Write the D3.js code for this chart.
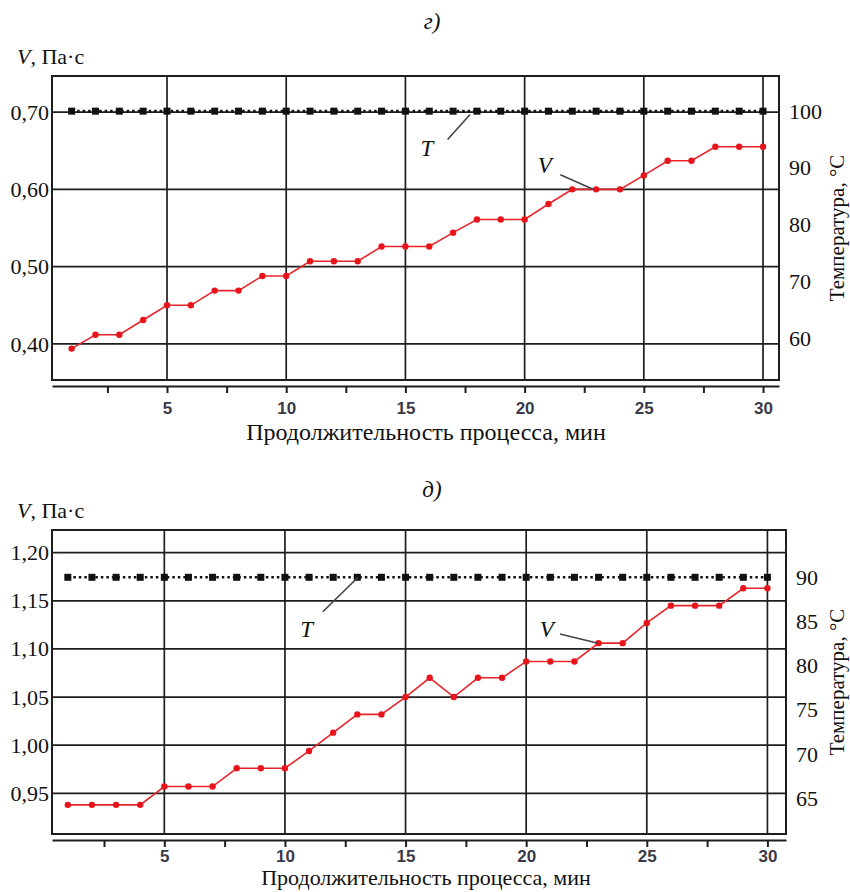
<!DOCTYPE html>
<html>
<head>
<meta charset="utf-8">
<script src="https://cdn.jsdelivr.net/npm/d3@7"></script>
<style>
  body { margin: 0; background: #fff; }
  svg { display: block; }
  .serif { font-family: "Liberation Serif", "DejaVu Serif", serif; fill: #111; }
</style>
</head>
<body>
<svg id="chart" width="850" height="892"></svg>
<script>
// minutes of the process (x axis categories)
const minutes = [1, 2, 3, 4, 5, 6, 7, 8, 9, 10, 11, 12, 13, 14, 15,
                 16, 17, 18, 19, 20, 21, 22, 23, 24, 25, 26, 27, 28, 29, 30];

// panel "г)"
const viscosityG = [0.394, 0.412, 0.412, 0.431, 0.450, 0.450, 0.469, 0.469, 0.488, 0.488,
                    0.507, 0.507, 0.507, 0.526, 0.526, 0.526, 0.544, 0.561, 0.561, 0.561,
                    0.581, 0.600, 0.600, 0.600, 0.618, 0.637, 0.637, 0.655, 0.655, 0.655];
const temperatureG = [100, 100, 100, 100, 100, 100, 100, 100, 100, 100,
                      100, 100, 100, 100, 100, 100, 100, 100, 100, 100,
                      100, 100, 100, 100, 100, 100, 100, 100, 100, 100];

// panel "д)"
const viscosityD = [0.938, 0.938, 0.938, 0.938, 0.957, 0.957, 0.957, 0.976, 0.976, 0.976,
                    0.994, 1.013, 1.032, 1.032, 1.050, 1.070, 1.050, 1.070, 1.070, 1.087,
                    1.087, 1.087, 1.106, 1.106, 1.127, 1.145, 1.145, 1.145, 1.163, 1.163];
const temperatureD = [90, 90, 90, 90, 90, 90, 90, 90, 90, 90,
                      90, 90, 90, 90, 90, 90, 90, 90, 90, 90,
                      90, 90, 90, 90, 90, 90, 90, 90, 90, 90];

// tick labels
const xTicksMajor = [5, 10, 15, 20, 25, 30];
const xTicksAll = [2.5, 5, 7.5, 10, 12.5, 15, 17.5, 20, 22.5, 25, 27.5, 30];
const vTicksG = [0.40, 0.50, 0.60, 0.70];
const tTicksG = [60, 70, 80, 90, 100];
const vTicksD = [0.95, 1.00, 1.05, 1.10, 1.15, 1.20];
const tTicksD = [65, 70, 75, 80, 85, 90];

const svg = d3.select("#chart");
svg.append("rect").attr("width", 850).attr("height", 892).attr("fill", "#fff");

const panels = [
  {
    title: "г)", titleY: 29, xTitleY: 440, xPad: 9, xTitleSize: 24,
    left: 52, right: 779, top: 76, bottom: 380,
    xDomain: [0.176, 30.67], vDomain: [0.3534, 0.7466], tDomain: [52.6, 106.2],
    v: viscosityG, t: temperatureG, vTicks: vTicksG, tTicks: tTicksG,
    // annotation anchors in data units: [x, value]
    tLabel: { text: [15.9, 93.6], from: [16.77, 95.0], to: [17.71, 99.4] },
    vLabel: { text: [20.85, 0.632], from: [21.5, 0.619], to: [22.87, 0.600] }
  },
  {
    title: "д)", titleY: 497, xTitleY: 885, xPad: 3, xTitleSize: 22,
    left: 52, right: 786, top: 530, bottom: 834,
    xDomain: [0.344, 30.77], vDomain: [0.9077, 1.2236], tDomain: [60.96, 95.35],
    v: viscosityD, t: temperatureD, vTicks: vTicksD, tTicks: tTicksD,
    tLabel: { text: [10.9, 84.2], from: [11.57, 86.1], to: [13.03, 90.0] },
    vLabel: { text: [20.85, 1.121], from: [21.4, 1.1155], to: [22.98, 1.106] }
  }
];

const commaFormat = d => d3.format(".2f")(d).replace(".", ",");

panels.forEach(p => {
  const g = svg.append("g");
  const x = d3.scaleLinear().domain(p.xDomain).range([p.left, p.right]);
  const yV = d3.scaleLinear().domain(p.vDomain).range([p.bottom, p.top]);
  const yT = d3.scaleLinear().domain(p.tDomain).range([p.bottom, p.top]);

  // title
  g.append("text")
    .attr("class", "serif")
    .attr("x", 432).attr("y", p.titleY)
    .attr("text-anchor", "middle")
    .style("font-size", "23px")
    .style("font-style", "italic")
    .text(p.title);

  // left axis title
  const vt = g.append("text")
    .attr("class", "serif")
    .attr("x", 17).attr("y", p.top - 12)
    .style("font-size", "22px");
  vt.append("tspan").style("font-style", "italic").text("V");
  vt.append("tspan").text(", Па·с");

  // grid
  g.selectAll(".vgrid")
    .data(xTicksMajor)
    .enter().append("line")
    .attr("x1", d => x(d)).attr("x2", d => x(d))
    .attr("y1", p.top).attr("y2", p.bottom)
    .attr("stroke", "#1e1e1e").attr("stroke-width", 1.7);

  g.selectAll(".hgrid")
    .data(p.vTicks)
    .enter().append("line")
    .attr("x1", p.left).attr("x2", p.right)
    .attr("y1", d => yV(d)).attr("y2", d => yV(d))
    .attr("stroke", "#1e1e1e").attr("stroke-width", 1.7);

  // frame
  g.append("rect")
    .attr("x", p.left).attr("y", p.top)
    .attr("width", p.right - p.left).attr("height", p.bottom - p.top)
    .attr("fill", "none")
    .attr("stroke", "#1e1e1e").attr("stroke-width", 2);

  // bottom axis
  const xAxis = d3.axisBottom(x)
    .tickValues(xTicksAll)
    .tickSize(7)
    .tickSizeOuter(0)
    .tickPadding(p.xPad)
    .tickFormat(d => xTicksMajor.includes(d) ? d : "");
  const xg = g.append("g")
    .attr("transform", `translate(0,${p.bottom + 6})`)
    .call(xAxis);
  xg.select(".domain").attr("stroke", "#1e1e1e").attr("stroke-width", 2);
  xg.selectAll(".tick line").attr("stroke", "#1e1e1e").attr("stroke-width", 2);
  xg.selectAll(".tick text")
    .style("font-family", "'Liberation Sans', Arial, sans-serif")
    .style("font-size", "17px")
    .style("font-weight", "bold")
    .attr("fill", "#3a3a48");

  g.append("text")
    .attr("class", "serif")
    .attr("x", 426).attr("y", p.xTitleY)
    .attr("text-anchor", "middle")
    .style("font-size", p.xTitleSize + "px")
    .text("Продолжительность процесса, мин");

  // left axis
  const yg = g.append("g")
    .attr("transform", `translate(${p.left},0)`)
    .call(d3.axisLeft(yV).tickValues(p.vTicks).tickSize(0).tickPadding(3).tickFormat(commaFormat));
  yg.select(".domain").remove();
  yg.selectAll(".tick text")
    .style("font-family", "'Liberation Serif', serif")
    .style("font-size", "22px")
    .attr("fill", "#111");

  // right axis
  const tg = g.append("g")
    .attr("transform", `translate(${p.right},0)`)
    .call(d3.axisRight(yT).tickValues(p.tTicks).tickSize(0).tickPadding(10));
  tg.select(".domain").remove();
  tg.selectAll(".tick text")
    .style("font-family", "'Liberation Serif', serif")
    .style("font-size", "22px")
    .attr("fill", "#111");

  g.append("text")
    .attr("class", "serif")
    .attr("transform", `translate(844,${(p.top + p.bottom) / 2}) rotate(-90)`)
    .attr("text-anchor", "middle")
    .style("font-size", "21px")
    .text("Температура, °С");

  // temperature series
  const tLine = d3.line().x((d, i) => x(minutes[i])).y(d => yT(d));
  g.append("path")
    .datum(p.t)
    .attr("fill", "none")
    .attr("stroke", "#111")
    .attr("stroke-width", 2.6)
    .attr("stroke-dasharray", "2.5,3")
    .attr("d", tLine);
  g.selectAll(".tmark")
    .data(p.t)
    .enter().append("rect")
    .attr("x", (d, i) => x(minutes[i]) - 3.5)
    .attr("y", d => yT(d) - 3.5)
    .attr("width", 7).attr("height", 7)
    .attr("fill", "#111");

  // viscosity series
  const vLine = d3.line().x((d, i) => x(minutes[i])).y(d => yV(d));
  g.append("path")
    .datum(p.v)
    .attr("fill", "none")
    .attr("stroke", "#e8242a")
    .attr("stroke-width", 1.6)
    .attr("d", vLine);
  g.selectAll(".vmark")
    .data(p.v)
    .enter().append("circle")
    .attr("cx", (d, i) => x(minutes[i]))
    .attr("cy", d => yV(d))
    .attr("r", 3.2)
    .attr("fill", "#e8141c");

  // annotations
  const leader = (a, y) => {
    g.append("line")
      .attr("x1", x(a.from[0])).attr("y1", y(a.from[1]))
      .attr("x2", x(a.to[0])).attr("y2", y(a.to[1]))
      .attr("stroke", "#444").attr("stroke-width", 1.6);
  };
  leader(p.tLabel, yT);
  leader(p.vLabel, yV);

  g.append("text")
    .attr("class", "serif")
    .attr("x", x(p.tLabel.text[0])).attr("y", yT(p.tLabel.text[1]))
    .attr("text-anchor", "middle").attr("dy", "0.35em")
    .style("font-size", "23px").style("font-style", "italic")
    .text("T");
  g.append("text")
    .attr("class", "serif")
    .attr("x", x(p.vLabel.text[0])).attr("y", yV(p.vLabel.text[1]))
    .attr("text-anchor", "middle").attr("dy", "0.35em")
    .style("font-size", "23px").style("font-style", "italic")
    .text("V");
});
</script>
</body>
</html>
